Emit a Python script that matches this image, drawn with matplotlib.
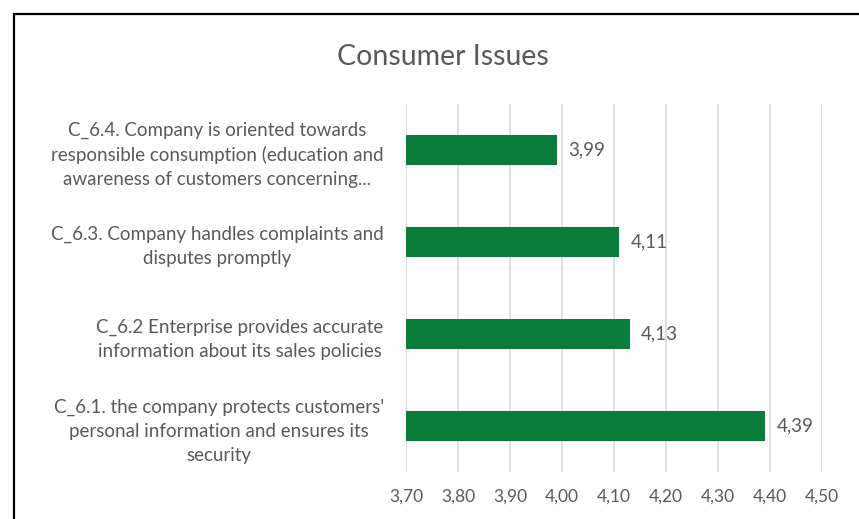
import matplotlib.pyplot as plt
from matplotlib.patches import Rectangle

# data
categories = [
    "C_6.1. the company protects customers'\npersonal information and ensures its\nsecurity",
    "C_6.2 Enterprise provides accurate\ninformation about its sales policies",
    "C_6.3. Company handles complaints and\ndisputes promptly",
    "C_6.4. Company is oriented towards\nresponsible consumption (education and\nawareness of customers concerning...",
]
values = [4.39, 4.13, 4.11, 3.99]
xticks = [3.70, 3.80, 3.90, 4.00, 4.10, 4.20, 4.30, 4.40, 4.50]

plt.rcParams['font.family'] = ['Lato', 'DejaVu Sans']
grey = '#595959'
green = '#0b7d3b'

fig = plt.figure(figsize=(8.59, 5.19), dpi=100)
ax = fig.add_axes([0.4726, 0.0906, 0.957 - 0.4726, 0.8 - 0.0906])

y = range(len(categories))
ax.barh(y, [v - xticks[0] for v in values], left=xticks[0], height=0.33, color=green, zorder=3)

for i, v in enumerate(values):
    ax.text(v + 0.022, i, f"{v:.2f}".replace('.', ','), va='center', ha='left',
            color=grey, fontsize=13.5)

ax.set_xlim(xticks[0], xticks[-1])
ax.set_ylim(-0.5, len(categories) - 0.5)
ax.set_xticks(xticks)
ax.set_xticklabels([f"{t:.2f}".replace('.', ',') for t in xticks], color=grey, fontsize=12.5)
ax.set_yticks(list(y))
ax.set_yticklabels(categories, color=grey, fontsize=13.5)
for t in ax.get_yticklabels():
    t.set_multialignment('center')
    t.set_linespacing(1.5)

ax.grid(axis='x', color='#d9d9d9', linewidth=1.2, zorder=0)
for s in ax.spines.values():
    s.set_visible(False)
ax.tick_params(axis='both', length=0)
ax.tick_params(axis='y', pad=16)
ax.tick_params(axis='x', pad=12)

fig.text(0.516, 0.89, "Consumer Issues", ha='center', va='center', color=grey, fontsize=20.5)

# outer frame (only left and top edges visible)
fig.patches.append(Rectangle((14 / 859, -0.1), 1.2, 1 - 14 / 519 + 0.1,
                             transform=fig.transFigure, fill=False,
                             edgecolor='black', linewidth=1.6))

fig.savefig('out.png', dpi=100)
